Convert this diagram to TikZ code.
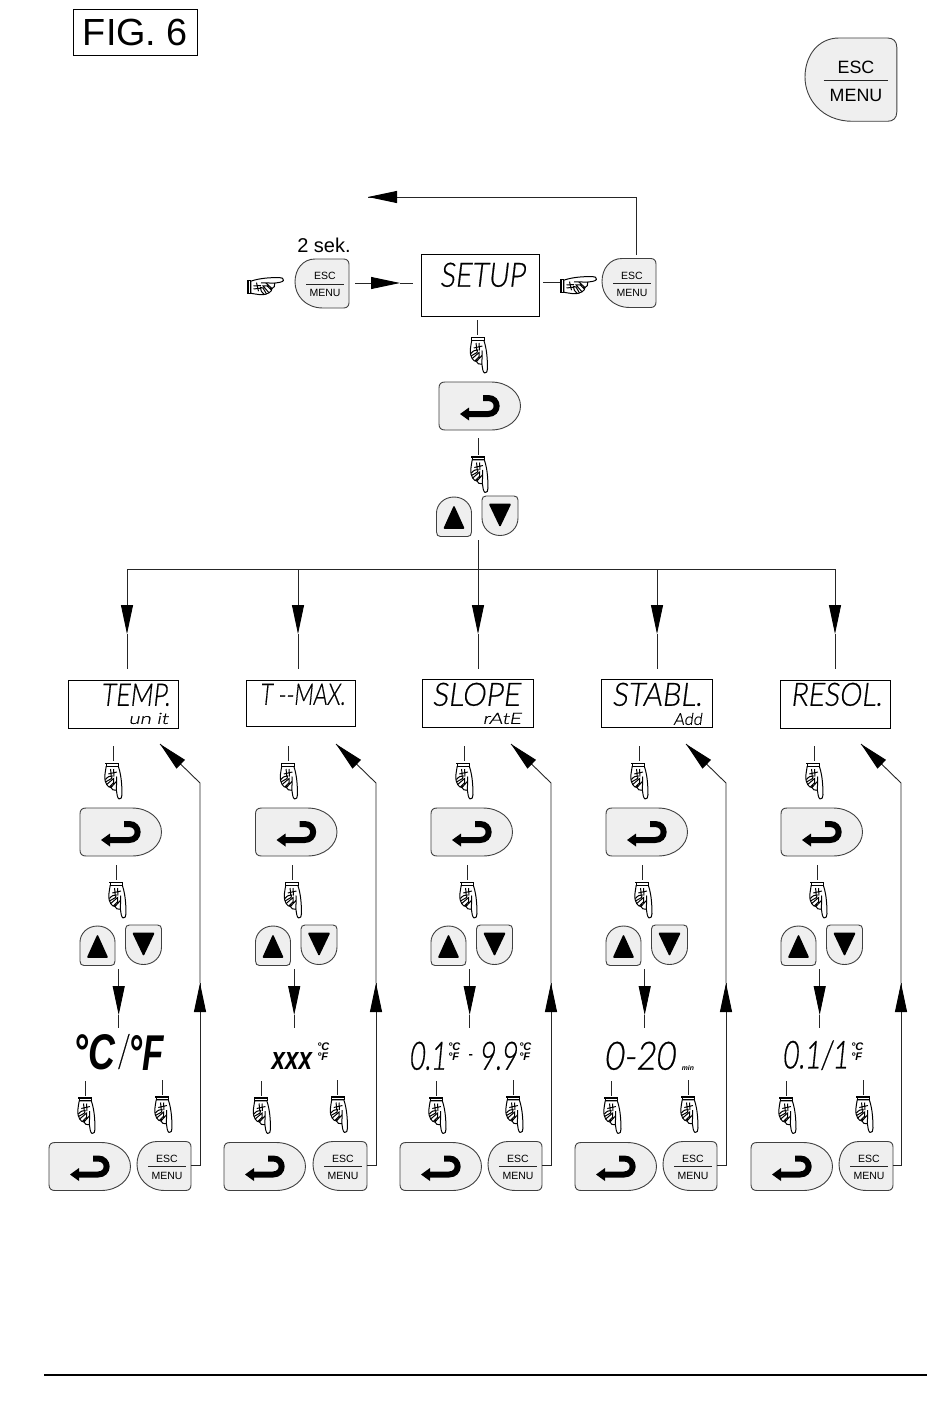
\documentclass[tikz,border=0pt]{standalone}
\usepackage{fontspec}
\usepackage{graphicx}
\setmainfont{Liberation Sans}
\newfontfamily\lcdf[FakeSlant=0.14,FakeBold=0.6]{Lato Light}
\usetikzlibrary{arrows.meta,calc}
\definecolor{btnfill}{HTML}{EFEFEF}
\tikzset{
  wire/.style={draw=black!85,line width=0.9pt},
  headed/.style={wire,-{Triangle[length=29pt,width=12pt,fill=black,color=black]}},
  btn/.style={draw=black!75,fill=btnfill,line width=0.9pt},
  glyph/.style={draw=black,line width=1pt},
  lcdstyle/.style={draw=black,fill=white,line width=0.9pt,inner sep=0pt,outer sep=0pt},
  txt/.style={inner sep=0pt,outer sep=0pt},
}
% generic helpers -------------------------------------------------
\newcommand\seg[5]{% name x1 y1 x2 y2
  \coordinate (#1a) at (#2,#3);\coordinate (#1b) at (#4,#5);\draw[wire] (#1a)--(#1b);}
\newcommand\arrowseg[7]{% name x1 y1 tipx tipy x2 y2
  \coordinate (#1a) at (#2,#3);\coordinate (#1m) at (#4,#5);\coordinate (#1b) at (#6,#7);
  \draw[wire] (#1m)--(#1b);\draw[headed] (#1a)--(#1m);}
\newcommand\handshape{%
  \draw[glyph,fill=white,line join=round] (1.6,3.8) .. controls (1.4,7) and (0.3,10) .. (0.3,13)
     .. controls (0.2,17) and (0.6,20) .. (2,22) .. controls (3,24) and (4.6,25) .. (6,25)
     .. controls (6.4,27) and (8.8,28.6) .. (11,27.6)
     .. controls (11.4,31) and (11.8,35.4) .. (13.4,36.5) .. controls (15.2,36.9) and (16.4,35) .. (16.2,32)
     .. controls (16.1,25) and (16,14) .. (12.8,3.8) -- cycle;
  \draw[glyph,fill=white] (1.5,1.2) rectangle (13.2,3.8);
  \fill[black] (0.8,0) rectangle (13.8,1.6);
  \draw[glyph] (11,27.6) -- (11.3,14)
     (0.8,17) .. controls (3,14) and (5,13.5) .. (7,13.5) -- (6.5,16) -- (0.9,19.5)
     (2,22) -- (8.5,16) -- (8.5,20) -- (4.5,24.5)
     (6,25) -- (11,19) 
     (5.6,6.5) -- (6.3,14) (8.4,6.5) -- (8.7,14) (3.5,11.5) -- (11.5,9.5);
}
\newcommand\handdown[2]{\begin{scope}[shift={(#1,#2)},xscale=1.08]\handshape\end{scope}}
\newcommand\handright[2]{\begin{scope}[shift={(#1,#2)},rotate=90,xscale=1.08]\handshape\end{scope}}
\newcommand\enterbtn[3]{% name x y
  \begin{scope}[shift={(#2,#3)}]
    \draw[btn] (6,0) -- (52,0) .. controls (69,0) and (81.5,11) .. (81.5,24) .. controls (81.5,37) and (69,48) .. (52,48)
       -- (6,48) .. controls (2,48) and (0,46) .. (0,42) -- (0,6) .. controls (0,2) and (2,0) .. (6,0) -- cycle;
    \coordinate (#1) at (40,24);
    \draw[black,line width=6pt] (28,32) -- (49,32) .. controls (60.5,32) and (60.5,16) .. (49,16) -- (44,16);
    \fill[black] (21,32) -- (30,25.5) -- (30,38.5) -- cycle;
  \end{scope}}
\newcommand\escbtn[4]{% name x y scale
  \begin{scope}[shift={(#2,#3)},scale=#4,transform shape]
    \draw[btn] (20,0) -- (48.5,0) .. controls (52,0) and (54,2) .. (54,5.5) -- (54,43.5) .. controls (54,47) and (52,49) .. (48.5,49)
       -- (28,49) .. controls (10,49) and (0,36) .. (0,23) .. controls (0,10) and (8,0) .. (20,0) -- cycle;
    \node[txt,font=\fontsize{10.5}{12}\selectfont] (#1e) at (30,17) {ESC};
    \node[txt,font=\fontsize{10.5}{12}\selectfont] (#1m) at (30,34) {MENU};
    \draw[black!85,line width=0.6pt] (11,25) -- (49,25);
  \end{scope}}
\newcommand\updown[3]{% x y of up button, name
  \begin{scope}[shift={(#1,#2)}]
    \draw[btn] (17.5,0) .. controls (28,0) and (35,8) .. (35,16) -- (35,35) .. controls (35,38) and (33.5,39.5) .. (31,39.5) -- (4,39.5)
      .. controls (1.5,39.5) and (0,38) .. (0,35) -- (0,16) .. controls (0,8) and (7,0) .. (17.5,0) -- cycle;
    \fill[black,draw=black,line width=1.6pt,line join=round] (8,31) -- (27,31) -- (17.5,10) -- cycle;
    \coordinate (#3u) at (17.5,20);
    \begin{scope}[shift={(45.5,-1)}]
      \draw[btn] (4,0) -- (32,0) .. controls (34.5,0) and (36,1.5) .. (36,4) -- (36,22) .. controls (36,32) and (28,39.5) .. (18,39.5)
        .. controls (8,39.5) and (0,32) .. (0,22) -- (0,4) .. controls (0,1.5) and (1.5,0) .. (4,0) -- cycle;
      \fill[black,draw=black,line width=1.6pt,line join=round] (8,8.5) -- (28,8.5) -- (18,29.5) -- cycle;
      \coordinate (#3d) at (18,18);
    \end{scope}
  \end{scope}}
\newcommand\lcdbox[5]{% name x1 y1 x2 y2
  \pgfmathsetmacro\bw{#4-#2}\pgfmathsetmacro\bh{#5-#3}
  \node[lcdstyle,minimum width=\bw pt,minimum height=\bh pt,anchor=north west] (#1) at (#2,#3) {};}
\newcommand\fit[7][\lcdf]{% font name x1 y1 x2 y2 text
  \pgfmathsetmacro\tw{#5-#3}\pgfmathsetmacro\th{#6-#4}
  \node[txt,anchor=south west] (#2) at (#3,#6) {\resizebox{\tw pt}{\th pt}{#1 #7}};}
\newcommand\degstack[3]{% name x ytop
  \node[txt,anchor=north west,font=\fontsize{11}{10}\selectfont\bfseries\itshape,align=left] (#1) at (#2,#3) {°C\\°F};}
\begin{document}
\begin{tikzpicture}[x=1pt,y=-1pt]
\useasboundingbox (0,0) rectangle (950,1402);
\fill[white] (0,0) rectangle (950,1402);

% title, corner key and footer
\node[draw=black,line width=0.9pt,minimum width=124pt,minimum height=46pt,inner sep=0pt,anchor=north west,font=\fontsize{37.8}{40}\selectfont] (fig) at (73,9) {FIG. 6};
\escbtn{bigesc}{805}{38}{1.7}
\coordinate (rulea) at (44,1375); \coordinate (ruleb) at (927,1375);
\draw[black,line width=1.1pt] (rulea) -- (ruleb);

% head of the chart
\node[txt,anchor=base,font=\fontsize{20}{22}\selectfont] (twosek) at (324,252) {2 sek.};
\handright{247}{295}
\escbtn{esca}{295}{259}{1}
\lcdbox{setup}{421}{254}{539}{316}
\fit{setuptxt}{432}{263}{525}{287}{SETUP}
\handright{560}{294}
\escbtn{escb}{602}{258.5}{1}
\arrowseg{h1}{355}{283}{400}{283}{413}{283}
\seg{h2}{543}{282}{560}{282}
\coordinate (backa) at (636,255); \coordinate (backb) at (636,197); \coordinate (backc) at (368,197);
\draw[wire] (backa) -- (backb) -- (backc);
\draw[headed] (backb) -- (backc);
\seg{v1}{477.5}{320}{477.5}{335}
\handdown{470}{336.5}
\enterbtn{ent}{439}{382}
\seg{v2}{478}{438}{478}{455}
\handdown{470.5}{456}
\updown{436.5}{497}{ud}

% distribution bus
\coordinate (busl) at (127,569); \coordinate (busr) at (835,569); \coordinate (busm) at (478,569); \coordinate (bust) at (478,540);
\draw[wire] (busl) -- (busr);
\draw[wire] (bust) -- (busm);
\foreach \bx/\n in {127/a,298/b,478/c,657/d,835/e}{
  \arrowseg{drop\n}{\bx}{569}{\bx}{634}{\bx}{669}
}

% LCD screens
\lcdbox{lcda}{68}{680}{178}{728}
\fit{ta}{94}{684}{170}{706}{TEMP.}
\fit{tau}{123}{713}{168}{724}{un it}
\lcdbox{lcdb}{246}{680}{355}{726}
\fit{tb}{254}{684}{345}{705}{T --MAX.}
\lcdbox{lcdc}{422}{679}{533}{727}
\fit{tc}{424}{683}{520}{706}{SLOPE}
\fit{tcu}{477}{713}{521}{724}{rAtE}
\lcdbox{lcdd}{601}{679}{712}{727}
\fit{td}{604}{683}{702}{706}{STABL.}
\fit{tdu}{669}{713}{702}{725}{Add}
\lcdbox{lcde}{780}{680}{890}{728}
\fit{te}{783}{683}{882}{706}{RESOL.}

% the five identical columns
\foreach \d/\n/\bx/\ex/\rx in {0/a/49/137/200,175.5/b/224/313/376,351/c/400/488/551,526/d/575/663/726,701/e/751/839/901}{
  \pgfmathsetmacro\xa{113+\d}\pgfmathsetmacro\xb{116.5+\d}\pgfmathsetmacro\xc{118.7+\d}
  \pgfmathsetmacro\ha{104.5+\d}\pgfmathsetmacro\hb{108.5+\d}\pgfmathsetmacro\ea{80+\d}
  \pgfmathsetmacro\ua{80+\d}
  \pgfmathsetmacro\la{85.5+\d}\pgfmathsetmacro\lb{162+\d}\pgfmathsetmacro\hc{77.5+\d}\pgfmathsetmacro\hd{154.5+\d}
  \pgfmathsetmacro\tip{160+\d+(\rx-200-\d)}\pgfmathsetmacro\ez{\ex+53.5}
  \seg{c\n1}{\xa}{746}{\xa}{761}
  \handdown{\ha}{762.5}
  \enterbtn{ent\n}{\ea}{808}
  \seg{c\n2}{\xb}{865}{\xb}{880}
  \handdown{\hb}{881.5}
  \updown{\ua}{926}{ud\n}
  \arrowseg{c\n3}{\xc}{969}{\xc}{1015}{\xc}{1028}
  \seg{c\n4}{\la}{1081}{\la}{1096}
  \seg{c\n5}{\lb}{1080}{\lb}{1095}
  \handdown{\hc}{1097}
  \handdown{\hd}{1096}
  \enterbtn{ret\n}{\bx}{1142.5}
  \escbtn{esc\n}{\ex}{1141.5}{1}
  % return path
  \coordinate (r\n a) at (\ez,1165); \coordinate (r\n b) at (\rx,1165);
  \coordinate (r\n c) at (\rx,983);  \coordinate (r\n d) at (\rx,783); \coordinate (r\n e) at (\tip,744);
  \draw[wire] (r\n a) -- (r\n b) -- (r\n c);
  \draw[wire] (r\n c) -- (r\n d) -- (r\n e);
  \draw[headed] (\rx,1020) -- (r\n c);
  \draw[headed] ($(r\n d)!0.55!(r\n e)$) -- (r\n e);
}

% value read-outs
\fit[\bfseries\itshape]{va1}{63}{1035}{115}{1070}{°C}
\fit{va2}{111}{1036}{128}{1069}{/}
\fit[\bfseries\itshape]{va3}{119}{1035}{164}{1070}{°F}
\fit[\bfseries\itshape]{vb1}{265}{1052}{312}{1069}{xxx}
\degstack{vb2}{317}{1042.5}
\fit{vc1}{402}{1042}{446}{1070}{0.1}
\degstack{vc2}{448}{1042.5}
\fit[\bfseries]{vc3}{465}{1054}{473}{1058}{-}
\fit{vc4}{472}{1042}{517}{1070}{9.9}
\degstack{vc5}{519}{1042.5}
\fit{vd1}{595}{1042}{675}{1070}{0-20}
\fit[\bfseries\itshape]{vd2}{680}{1065}{694}{1070}{min}
\fit{ve1}{775}{1042}{848}{1070}{0.1/1}
\degstack{ve2}{851}{1042.5}
\end{tikzpicture}
\end{document}
